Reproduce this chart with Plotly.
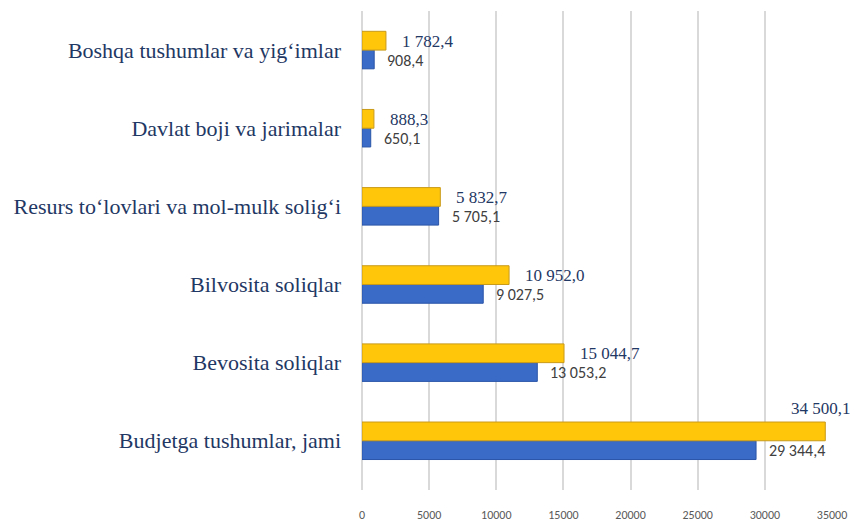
import plotly.graph_objects as go

categories = ["Budjetga tushumlar, jami", "Bevosita soliqlar", "Bilvosita soliqlar",
              "Resurs to‘lovlari va mol-mulk solig‘i", "Davlat boji va jarimalar",
              "Boshqa tushumlar va yig‘imlar"]
values_blue = [29344.4, 13053.2, 9027.5, 5705.1, 650.1, 908.4]
values_yellow = [34500.1, 15044.7, 10952.0, 5832.7, 888.3, 1782.4]
x_ticks = [0, 5000, 10000, 15000, 20000, 25000, 30000, 35000]

SERIF = "Liberation Serif, Times New Roman, serif"
SANS = "Carlito, Liberation Sans, Arial, sans-serif"


def fmt(v):
    return f"{v:,.1f}".replace(",", " ").replace(".", ",")


fig = go.Figure()
fig.add_trace(go.Bar(y=categories, x=values_blue, orientation="h", name="blue",
                     marker=dict(color="#3A6BC6", line=dict(color="#2A55A8", width=1))))
fig.add_trace(go.Bar(y=categories, x=values_yellow, orientation="h", name="yellow",
                     marker=dict(color="#FFC60A", line=dict(color="#C99A1A", width=1))))

annotations = []
for c, vb, vy in zip(categories, values_blue, values_yellow):
    annotations.append(dict(x=vb, y=c, text=fmt(vb), showarrow=False, xanchor="left",
                            xshift=11, yshift=-10,
                            font=dict(family=SANS, size=16, color="#404040")))
    if vy > 30000:
        annotations.append(dict(x=vy, y=c, text=fmt(vy), showarrow=False, xanchor="right",
                                xshift=28, yshift=32,
                                font=dict(family=SERIF, size=17, color="#1F3864")))
    else:
        annotations.append(dict(x=vy, y=c, text=fmt(vy), showarrow=False, xanchor="left",
                                xshift=14, yshift=9,
                                font=dict(family=SERIF, size=17, color="#1F3864")))

fig.update_layout(
    width=853, height=517,
    margin=dict(l=354, r=29, t=3, b=25),
    paper_bgcolor="white", plot_bgcolor="white",
    barmode="group", bargap=0.52, bargroupgap=0,
    showlegend=False,
    annotations=annotations,
    xaxis=dict(range=[0, 35000], tickvals=x_ticks, ticktext=[str(t) for t in x_ticks],
               showgrid=True, gridcolor="#D9D9D9", gridwidth=2, zeroline=True,
               zerolinecolor="#D9D9D9", zerolinewidth=2,
               tickfont=dict(family=SANS, size=12, color="#595959"),
               ticklabelstandoff=16),
    yaxis=dict(range=[-0.63, 5.5], showgrid=False,
               tickfont=dict(family=SERIF, size=22, color="#1F3864"),
               ticklabelstandoff=20),
)

fig.write_html("out.html")
